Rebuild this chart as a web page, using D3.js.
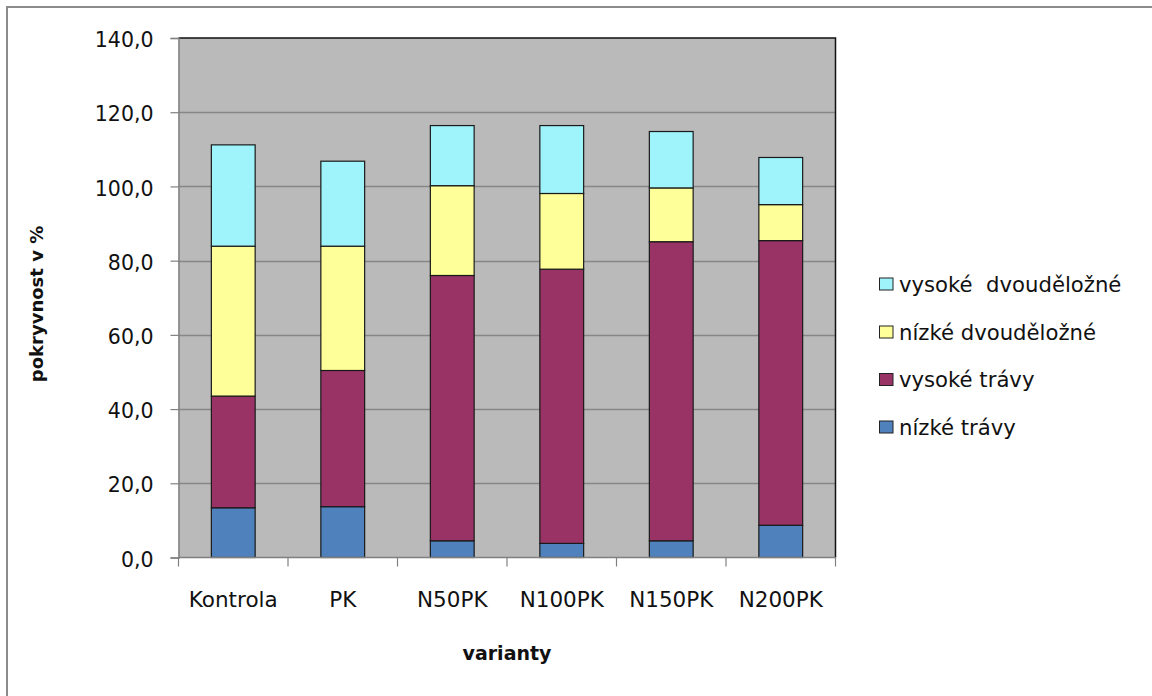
<!DOCTYPE html>
<html>
<head>
<meta charset="utf-8">
<script src="https://cdn.jsdelivr.net/npm/d3@7"></script>
<style>
  html, body { margin: 0; padding: 0; background: #fff; }
  svg { display: block; font-family: "DejaVu Sans", sans-serif; }
</style>
</head>
<body>
<svg id="chart" width="1152" height="696"></svg>
<script>
// Pokryvnost skupin rostlin podle variant hnojení (%)
const categories = ["Kontrola", "PK", "N50PK", "N100PK", "N150PK", "N200PK"];
const seriesNames = ["nízké trávy", "vysoké trávy", "nízké dvouděložné", "vysoké  dvouděložné"];
const nizkeTravy        = [13.4, 13.7,  4.5,  3.8,  4.5,  8.7];
const vysokeTravy       = [30.1, 36.7, 71.5, 73.9, 80.6, 76.7];
const nizkeDvoudelozne  = [40.4, 33.5, 24.2, 20.4, 14.5,  9.7];
const vysokeDvoudelozne = [27.3, 22.9, 16.2, 18.3, 15.2, 12.7];
const yTicks = [0, 20, 40, 60, 80, 100, 120, 140];
const colors = ["#4f81bd", "#993366", "#ffff99", "#9ff3fb"];

const seriesValues = [nizkeTravy, vysokeTravy, nizkeDvoudelozne, vysokeDvoudelozne];
const rows = categories.map((c, i) => {
  const r = { cat: c };
  seriesNames.forEach((s, k) => { r[s] = seriesValues[k][i]; });
  return r;
});
const stacked = d3.stack().keys(seriesNames)(rows);

const svg = d3.select("#chart");
const plot = { left: 178.5, right: 835.5, top: 38, bottom: 557.5 };
const textColor = "#111";

// outer chart frame
svg.append("rect")
  .attr("x", 7).attr("y", 7).attr("width", 1160).attr("height", 700)
  .attr("fill", "#fff").attr("stroke", "#8c8c8c").attr("stroke-width", 2);

const x = d3.scaleBand().domain(categories).range([plot.left, plot.right]).paddingInner(0.6).paddingOuter(0.3);
const xBand = d3.scaleBand().domain(categories).range([plot.left, plot.right]);
const y = d3.scaleLinear().domain([0, 140]).range([plot.bottom, plot.top]);

// plot area background
svg.append("rect")
  .attr("x", plot.left).attr("y", plot.top)
  .attr("width", plot.right - plot.left).attr("height", plot.bottom - plot.top)
  .attr("fill", "#bababa");

// gridlines
svg.append("g").selectAll("line")
  .data(yTicks.filter(t => t > 0 && t < 140))
  .join("line")
  .attr("x1", plot.left).attr("x2", plot.right)
  .attr("y1", d => Math.round(y(d)) + 0.5).attr("y2", d => Math.round(y(d)) + 0.5)
  .attr("stroke", "#878787").attr("stroke-width", 1.5);

// top and right border of plot area
svg.append("path")
  .attr("d", `M${plot.left},${plot.top} H${plot.right} V${plot.bottom}`)
  .attr("fill", "none").attr("stroke", "#111").attr("stroke-width", 1.5);

// stacked bars
svg.append("g").selectAll("g")
  .data(stacked)
  .join("g")
  .attr("fill", (d, i) => colors[i])
  .selectAll("rect")
  .data(d => d.map(v => ({ v, cat: v.data.cat })))
  .join("rect")
  .attr("x", d => x(d.cat))
  .attr("width", x.bandwidth())
  .attr("y", d => y(d.v[1]))
  .attr("height", d => y(d.v[0]) - y(d.v[1]))
  .attr("stroke", "#1a1a1a").attr("stroke-width", 1.2);

// y axis
const yAxis = d3.axisLeft(y).tickValues(yTicks).tickSize(8).tickPadding(17)
  .tickFormat(d => d3.format(".1f")(d).replace(".", ","));
const gy = svg.append("g").attr("transform", `translate(${plot.left},0)`).call(yAxis);
gy.select(".domain").attr("stroke", "#808080").attr("stroke-width", 1.5);
gy.selectAll(".tick line").attr("stroke", "#808080").attr("stroke-width", 1.2);
gy.selectAll(".tick text").attr("font-size", 20.5).attr("fill", textColor)
  .attr("font-family", "'DejaVu Sans', sans-serif").attr("dy", "0.42em");

// x axis with ticks on category boundaries
const gx = svg.append("g").attr("transform", `translate(0,${plot.bottom})`);
gx.append("line").attr("x1", plot.left).attr("x2", plot.right)
  .attr("stroke", "#808080").attr("stroke-width", 1.5);
const bounds = categories.map(c => xBand(c)).concat([plot.right]);
gx.selectAll("line.tk").data(bounds).join("line").attr("class", "tk")
  .attr("x1", d => d).attr("x2", d => d).attr("y1", 0).attr("y2", 9)
  .attr("stroke", "#808080").attr("stroke-width", 1.2);
gx.selectAll("text").data(categories).join("text")
  .attr("x", d => xBand(d) + xBand.bandwidth() / 2)
  .attr("y", 49)
  .attr("text-anchor", "middle")
  .attr("font-size", 21.5).attr("fill", textColor)
  .text(d => d);

// axis titles
svg.append("text")
  .attr("x", (plot.left + plot.right) / 2).attr("y", 660)
  .attr("text-anchor", "middle").attr("font-weight", "bold").attr("font-size", 19).attr("fill", textColor)
  .text("varianty");
svg.append("text")
  .attr("transform", `translate(43,304) rotate(-90)`)
  .attr("text-anchor", "middle").attr("font-weight", "bold").attr("font-size", 18).attr("fill", textColor)
  .text("pokryvnost v %");

// legend (reverse stacking order, top series first)
const legendY = [284, 332, 379.5, 427];
const legend = svg.append("g");
const legendItems = seriesNames.map((s, i) => ({ s, c: colors[i] })).reverse();
legendItems.forEach((d, i) => {
  legend.append("rect")
    .attr("x", 879.5).attr("y", legendY[i] - 6).attr("width", 13.5).attr("height", 12)
    .attr("fill", d.c).attr("stroke", "#222").attr("stroke-width", 1);
  legend.append("text")
    .attr("x", 899).attr("y", legendY[i]).attr("dy", "0.36em")
    .attr("font-size", 21.2).attr("fill", textColor)
    .style("white-space", "pre")
    .text(d.s);
});
</script>
</body>
</html>
